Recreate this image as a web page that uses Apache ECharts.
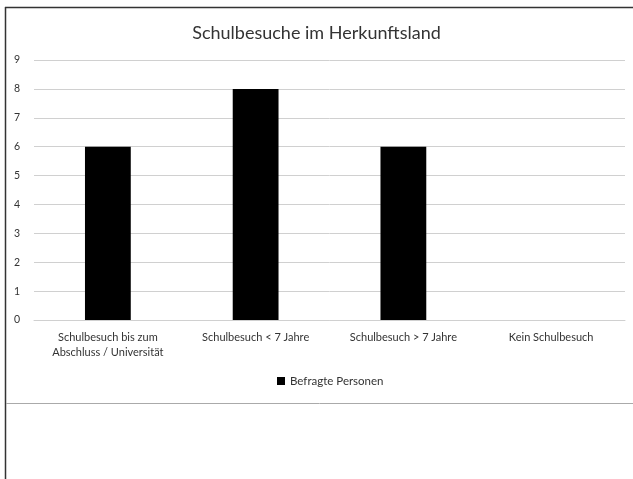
<!DOCTYPE html>
<html><head><meta charset="utf-8">
<script src="https://cdn.jsdelivr.net/npm/echarts@6/dist/echarts.min.js"></script>
<style>html,body{margin:0;padding:0;background:#fff}#c{width:633px;height:479px}</style>
</head><body><div id="c"></div>
<script>
const titleText = 'Schulbesuche im Herkunftsland';
const categories = ['Schulbesuch bis zum\nAbschluss / Universität', 'Schulbesuch < 7 Jahre', 'Schulbesuch > 7 Jahre', 'Kein Schulbesuch'];
const seriesName = 'Befragte Personen';
const values = [6, 8, 6, 0];
const yMin = 0, yMax = 9, yStep = 1;

const font = 'Lato, "Open Sans", sans-serif';
const chart = echarts.init(document.getElementById('c'), null, {renderer: 'canvas'});
chart.setOption({
  animation: false,
  backgroundColor: '#fff',
  title: {text: titleText, left: 'center', top: 19, textStyle: {fontFamily: font, fontSize: 18, fontWeight: 'normal', color: '#333'}},
  grid: {left: 34, right: 8, top: 60, bottom: 159, containLabel: false},
  legend: {data: [seriesName], bottom: 87, left: 272, itemWidth: 8, itemHeight: 8, itemGap: 3, icon: 'rect',
    textStyle: {fontFamily: font, fontSize: 11.5, color: '#333'}},
  xAxis: {type: 'category', data: categories,
    axisLine: {lineStyle: {color: '#d0d0d0'}}, axisTick: {show: false},
    axisLabel: {fontFamily: font, fontSize: 11, color: '#333', interval: 0, margin: 10, lineHeight: 15}},
  yAxis: {type: 'value', min: yMin, max: yMax, interval: yStep,
    axisLine: {show: false}, axisTick: {show: false},
    splitLine: {lineStyle: {color: '#d0d0d0'}},
    axisLabel: {fontFamily: font, fontSize: 10.5, color: '#333', margin: 14}},
  series: [{name: seriesName, type: 'bar', data: values, barWidth: '31%', itemStyle: {color: '#000'}}],
  graphic: [
    {type: 'line', shape: {x1: 5.5, y1: 7, x2: 5.5, y2: 479}, style: {stroke: '#333', lineWidth: 1.5}},
    {type: 'line', shape: {x1: 5, y1: 7.5, x2: 633, y2: 7.5}, style: {stroke: '#333', lineWidth: 1.5}},
    {type: 'line', shape: {x1: 6, y1: 403.5, x2: 633, y2: 403.5}, style: {stroke: '#aaa', lineWidth: 1}}
  ]
});
</script></body></html>
